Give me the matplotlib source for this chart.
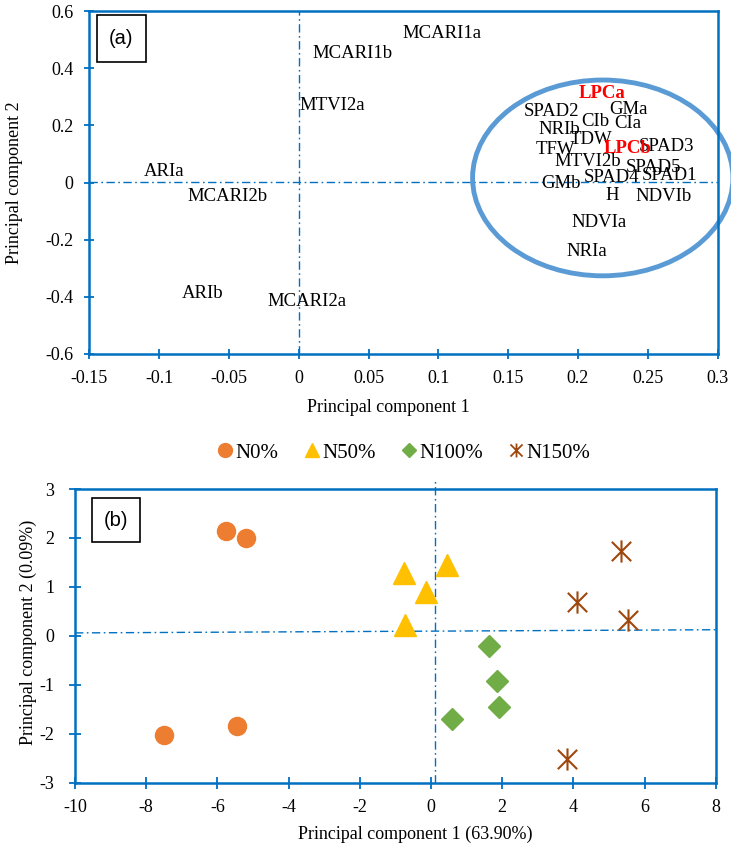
import matplotlib
matplotlib.use("Agg")
import matplotlib.pyplot as plt
from matplotlib.lines import Line2D
from matplotlib.patches import Ellipse, Rectangle
from matplotlib.path import Path

# ---------------- data: panel (a) loadings labels ----------------
var_names = ["MCARI1a", "MCARI1b", "MTVI2a", "ARIa", "MCARI2b", "ARIb", "MCARI2a",
             "LPCa", "SPAD2", "GMa", "CIb", "CIa", "NRIb", "TDW", "LPCb", "SPAD3",
             "TFW", "MTVI2b", "SPAD5", "GMb", "SPAD4", "SPAD1", "H", "NDVIb",
             "NDVIa", "NRIa"]
pc1_load = [0.0740, 0.0102, 0.0002, -0.1106, -0.0800, -0.0838, -0.0222,
            0.2003, 0.1614, 0.2225, 0.2022, 0.2259, 0.1721, 0.1943, 0.2182, 0.2433,
            0.1700, 0.1831, 0.2342, 0.1736, 0.2039, 0.2457, 0.2199, 0.2409,
            0.1951, 0.1920]
pc2_load = [0.521, 0.450, 0.268, 0.038, -0.050, -0.387, -0.417,
            0.312, 0.248, 0.257, 0.213, 0.207, 0.184, 0.151, 0.120, 0.125,
            0.116, 0.073, 0.053, -0.005, 0.018, 0.023, -0.047, -0.050,
            -0.139, -0.240]
highlight = ["LPCa", "LPCb"]

xticks_a = [-0.15, -0.1, -0.05, 0, 0.05, 0.1, 0.15, 0.2, 0.25, 0.3]
xticklabels_a = ["-0.15", "-0.1", "-0.05", "0", "0.05", "0.1", "0.15", "0.2", "0.25", "0.3"]
yticks_a = [-0.6, -0.4, -0.2, 0, 0.2, 0.4, 0.6]
yticklabels_a = ["-0.6", "-0.4", "-0.2", "0", "0.2", "0.4", "0.6"]

# ---------------- data: panel (b) scores ----------------
groups = ["N0%", "N50%", "N100%", "N150%"]
n0_x = [-5.77, -5.20, -7.51, -5.44]
n0_y = [2.15, 1.99, -2.03, -1.84]
n50_x = [-0.75, 0.45, -0.14, -0.72]
n50_y = [1.28, 1.44, 0.90, 0.22]
n100_x = [1.64, 1.85, 1.92, 0.60]
n100_y = [-0.20, -0.92, -1.46, -1.70]
n150_x = [5.35, 4.10, 5.53, 3.82]
n150_y = [1.73, 0.69, 0.32, -2.52]

xticks_b = [-10, -8, -6, -4, -2, 0, 2, 4, 6, 8]
yticks_b = [-3, -2, -1, 0, 1, 2, 3]

# ---------------- style ----------------
SERIF = "Liberation Serif"
SANS = "Liberation Sans"
BLUE = "#0070C0"
C_N0 = "#ED7D31"
C_N50 = "#FFC000"
C_N100 = "#70AD47"
C_N150 = "#9E480E"
DASH = (0, (6, 2.5, 1.2, 2.5))

plt.rcParams["font.family"] = [SERIF, "DejaVu Serif"]
plt.rcParams["axes.unicode_minus"] = False

W, H = 731, 852
fig = plt.figure(figsize=(W / 100, H / 100), dpi=100)

def ax_rect(l, r, t, b):
    return [l / W, 1 - b / H, (r - l) / W, (b - t) / H]

# asterisk marker (X + vertical)
star_path = Path([(-1, -1), (1, 1), (-1, 1), (1, -1), (0, -1.15), (0, 1.15)],
                 [Path.MOVETO, Path.LINETO, Path.MOVETO, Path.LINETO, Path.MOVETO, Path.LINETO])

def style_axes(ax, tick_len, xpad, ypad):
    for s in ax.spines.values():
        s.set_color(BLUE)
        s.set_linewidth(1.8)
    ax.tick_params(axis="both", direction="inout", length=tick_len, width=1.3,
                   color=BLUE, labelsize=13, labelcolor="black")
    ax.tick_params(axis="x", pad=xpad)
    ax.tick_params(axis="y", pad=ypad)

# ---------------- panel (a) ----------------
axa = fig.add_axes(ax_rect(89.3, 717.5, 11, 354))
axa.set_xlim(-0.15, 0.3)
axa.set_ylim(-0.6, 0.6)
axa.set_xticks(xticks_a)
axa.set_xticklabels(xticklabels_a)
axa.set_yticks(yticks_a)
axa.set_yticklabels(yticklabels_a)
style_axes(axa, 7, 8, 8)
axa.plot([0, 0], [-0.6, 0.6], color=BLUE, lw=1.0, ls=DASH, zorder=1)
axa.plot([-0.15, 0.3], [0.002, 0.002], color=BLUE, lw=1.0, ls=DASH, zorder=1)

for name, x, y in zip(var_names, pc1_load, pc2_load):
    if name in highlight:
        axa.text(x, y, name, ha="left", va="center", fontsize=13.5,
                 color="red", fontweight="bold", zorder=4)
    else:
        axa.text(x, y, name, ha="left", va="center", fontsize=13.5,
                 color="black", zorder=3)

ell = Ellipse((0.2178, 0.016), 0.1865, 0.685, fill=False, edgecolor="#5B9BD5",
              linewidth=3.5, clip_on=False, zorder=2)
axa.add_patch(ell)

axa.add_patch(Rectangle((97.3 / W, 1 - 61.7 / H), 48.4 / W, 46.7 / H,
                        transform=fig.transFigure, fill=True, facecolor="white",
                        edgecolor="black", linewidth=1.2, zorder=5))
fig.text((97.3 + 24.2) / W, 1 - 38.5 / H, "(a)", ha="center", va="center",
         fontsize=14.5, family=SANS, zorder=6)

fig.text(388 / W, 1 - 408 / H, "Principal component 1", ha="center", va="center", fontsize=13)
fig.text(15 / W, 1 - 183 / H, "Principal component 2", ha="center", va="center",
         fontsize=13, rotation=90)

# ---------------- panel (b) ----------------
axb = fig.add_axes(ax_rect(75, 715.7, 489, 782.7))
axb.set_xlim(-10, 8)
axb.set_ylim(-3, 3)
axb.set_xticks(xticks_b)
axb.set_yticks(yticks_b)
style_axes(axb, 8, 8, 11)
axb.plot([0.1, 0.1], [-3, 3.2], color=BLUE, lw=1.0, ls=DASH, zorder=1, clip_on=False)
axb.plot([-10, 8], [0.06, 0.125], color=BLUE, lw=1.0, ls=DASH, zorder=1)

axb.plot(n0_x, n0_y, ls="none", marker="o", ms=13, color=C_N0, mec=C_N0, zorder=3)
axb.plot(n50_x, n50_y, ls="none", marker="^", ms=16, color=C_N50, mec=C_N50, zorder=3)
axb.plot(n100_x, n100_y, ls="none", marker="D", ms=11.5, color=C_N100, mec=C_N100, zorder=3)
axb.plot(n150_x, n150_y, ls="none", marker=star_path, ms=16, color=C_N150, mew=1.5,
         fillstyle="none", zorder=3)

axb.add_patch(Rectangle((92.3 / W, 1 - 541.7 / H), 47.7 / W, 43.4 / H,
                        transform=fig.transFigure, fill=True, facecolor="white",
                        edgecolor="black", linewidth=1.2, zorder=5))
fig.text((92.3 + 23.85) / W, 1 - 520 / H, "(b)", ha="center", va="center",
         fontsize=14.5, family=SANS, zorder=6)

fig.text(415 / W, 1 - 834 / H, "Principal component 1 (63.90%)", ha="center",
         va="center", fontsize=13)
fig.text(28 / W, 1 - 632 / H, "Principal component 2 (0.09%)", ha="center",
         va="center", fontsize=13, rotation=90)

# ---------------- legend ----------------
handles = [
    Line2D([], [], ls="none", marker="o", ms=10, color=C_N0),
    Line2D([], [], ls="none", marker="^", ms=10.5, color=C_N50),
    Line2D([], [], ls="none", marker="D", ms=7, color=C_N100),
    Line2D([], [], ls="none", marker=star_path, ms=10, color=C_N150, mew=1.3, fillstyle="none"),
]
fig.legend(handles, groups, loc="center", bbox_to_anchor=(404 / W, 1 - 453 / H),
           ncol=4, frameon=False, fontsize=15, handlelength=0.7, handletextpad=0.15,
           columnspacing=1.25, borderpad=0)

fig.savefig("out.png", dpi=100)
